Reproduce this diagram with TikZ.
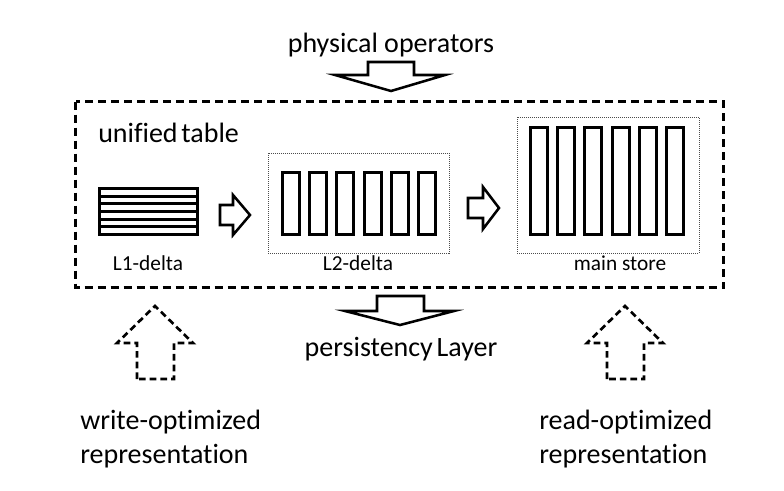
\documentclass[tikz,border=0pt]{standalone}
\usepackage{fontspec}
\setmainfont{Carlito}[Ligatures={NoCommon,NoRare,NoContextual}]
\usepackage{tikz}
\usepackage{xcolor}

\begin{document}
\begin{tikzpicture}[x=0.75pt,y=-0.75pt,
    bigtext/.style={font=\fontsize{21}{25.5}\selectfont,inner sep=0pt},
    smalltext/.style={font=\fontsize{16}{19}\selectfont,inner sep=0pt},
    column/.style={line width=2.2pt},
    blockarrow/.style={line width=1.9pt,line join=miter},
    hintarrow/.style={line width=2pt,dash pattern=on 5pt off 3pt},
    framebox/.style={line width=2.2pt,dash pattern=on 6pt off 3.75pt},
    groupbox/.style={black!70,line width=0.6pt,dash pattern=on 0.75pt off 0.75pt}]

\fill[white] (0,0) rectangle (784,490);

\node[bigtext,anchor=base] (ops) at (391,52) {physical operators};
\draw[blockarrow] (368,62) -- (414,62) -- (414,75) -- (445,75) -- (391,91) -- (335,75) -- (368,75) -- cycle;

\draw[framebox] (75.5,101.5) rectangle (723.5,287.5);
\node[bigtext,anchor=base west] (unified) at (98,142) {unified\hspace{-2pt} table};

% L1-delta
\draw[column] (99.5,188.5) rectangle (197.5,234.5);
\foreach \k in {1,...,5}
    \draw[column] (99.5,188.5+\k*7.667) -- (197.5,188.5+\k*7.667);
\node[smalltext,anchor=base] (l1) at (148,270) {L1-delta};

\draw[blockarrow] (220,205) -- (233,205) -- (233,195) -- (250,215) -- (233,235) -- (233,225) -- (220,225) -- cycle;

% L2-delta
\draw[groupbox] (268,153) rectangle (449,253);
\foreach \i in {0,...,5}
    \draw[column] (282.5+\i*27.2,172.5) rectangle (299.5+\i*27.2,234.5);
\node[smalltext,anchor=base] (l2) at (358,270) {L2-delta};

\draw[blockarrow] (468,198) -- (483,198) -- (483,187) -- (499,208) -- (483,229) -- (483,218) -- (468,218) -- cycle;

% main store
\draw[groupbox] (517,117) rectangle (699,253);
\foreach \i in {0,...,5}
    \draw[column] (530.5+\i*27.2,127.5) rectangle (547.5+\i*27.2,234.5);
\node[smalltext,anchor=base] (main) at (620,270) {main store};

% persistency
\draw[blockarrow] (377,296) -- (424,296) -- (424,311) -- (454,311) -- (400,325) -- (345,311) -- (377,311) -- cycle;
\node[bigtext,anchor=base] (persist) at (401,356) {persistency\hspace{-2pt} Layer};

\draw[hintarrow] (137,379) -- (137,343) -- (117,343) -- (155,306) -- (193,343) -- (174,343) -- (174,379) -- cycle;
\draw[hintarrow] (607,379) -- (607,343) -- (587,343) -- (625,306) -- (663,343) -- (644,343) -- (644,379) -- cycle;

\node[bigtext,anchor=base west] (write) at (80,429) {write-optimized};
\node[bigtext,anchor=base west] (writerep) at (80,463) {representation};
\node[bigtext,anchor=base west] (read) at (539,429) {read-optimized};
\node[bigtext,anchor=base west] (readrep) at (539,463) {representation};

\end{tikzpicture}
\end{document}
